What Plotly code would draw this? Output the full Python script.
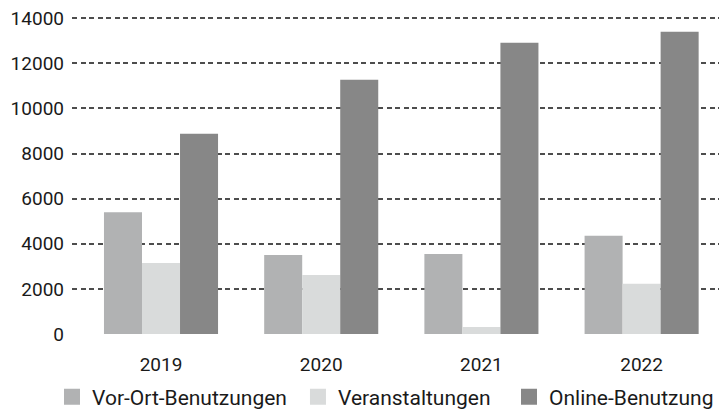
import plotly.graph_objects as go

years = ["2019", "2020", "2021", "2022"]
vor_ort = [5400, 3500, 3550, 4350]
veranstaltungen = [3150, 2620, 310, 2230]
online = [8870, 11270, 12910, 13400]
series_names = ["Vor-Ort-Benutzungen", "Veranstaltungen", "Online-Benutzung"]
colors = ["#b1b2b3", "#d9dbdb", "#878787"]
y_ticks = [0, 2000, 4000, 6000, 8000, 10000, 12000, 14000]

FONT = "Roboto, 'DejaVu Sans', sans-serif"
TXT = "#1a1a1a"

fig = go.Figure()
legend_ids = ["legend", "legend2", "legend3"]
for vals, name, col, lg in zip([vor_ort, veranstaltungen, online], series_names, colors, legend_ids):
    fig.add_trace(go.Bar(x=years, y=vals, name=name, marker=dict(color=col, line=dict(width=0)),
                         showlegend=False, hoverinfo="x+y+name"))
    # legend proxy with larger square symbol
    fig.add_trace(go.Scatter(x=[None], y=[None], mode="markers", name=name,
                             marker=dict(symbol="square", size=16, color=col),
                             showlegend=True, legend=lg))

# page has an 8px body margin, so the figure is sized to end at the window edge
legend_x = [0.0612, 0.4033, 0.6968]
leg_common = dict(orientation="h", xref="container", yref="container",
                  yanchor="middle", y=0.0299, xanchor="left",
                  font=dict(family=FONT, size=21, color=TXT), bgcolor="rgba(0,0,0,0)",
                  borderwidth=0, itemclick=False)

fig.update_layout(
    width=719, height=401,
    margin=dict(l=64, r=0, t=9, b=75, autoexpand=False),
    paper_bgcolor="white", plot_bgcolor="white",
    barmode="group", bargap=0.288, bargroupgap=0,
    font=dict(family=FONT, size=19, color=TXT),
    legend=dict(x=legend_x[0], **leg_common),
    legend2=dict(x=legend_x[1], **leg_common),
    legend3=dict(x=legend_x[2], **leg_common),
    xaxis=dict(type="category", range=[-0.5556, 3.533], showgrid=False, zeroline=False,
               showline=False, ticks="", tickfont=dict(size=19, color=TXT),
               ticklabelstandoff=17, fixedrange=True),
    yaxis=dict(range=[0, 14050], tickvals=y_ticks, ticktext=[str(v) for v in y_ticks],
               showgrid=True, gridcolor="#4d4d4d", gridwidth=1.5, griddash="5px,3.5px",
               zeroline=False, showline=False, ticks="", tickfont=dict(size=19, color=TXT),
               ticklabelstandoff=7, ticklabeloverflow="allow", fixedrange=True),
)

fig.write_html("out.html")
